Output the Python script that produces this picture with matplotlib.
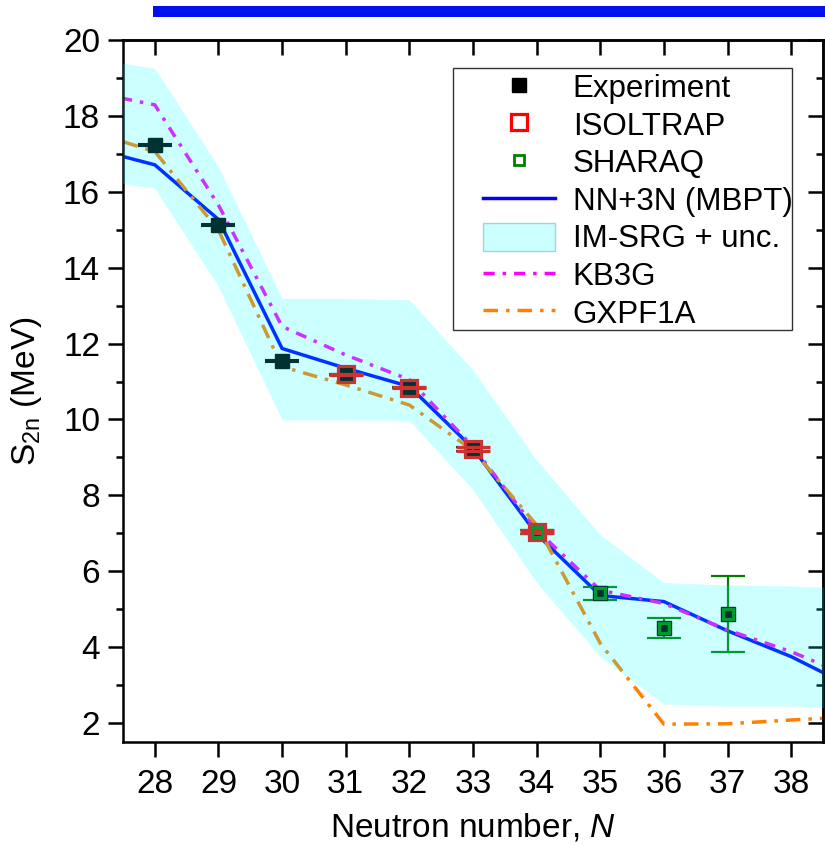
import matplotlib
matplotlib.use('Agg')
import matplotlib.pyplot as plt
from matplotlib.patches import Rectangle, Patch
from matplotlib.lines import Line2D

plt.rcParams['font.family'] = ['Liberation Sans', 'DejaVu Sans']
plt.rcParams['mathtext.fontset'] = 'custom'
plt.rcParams['mathtext.rm'] = 'Liberation Sans'
plt.rcParams['mathtext.it'] = 'Liberation Sans:italic'

# ---------------- data ----------------
exp_N = [28, 29, 30, 31, 32, 33, 34, 35, 36, 37]
exp_S = [17.23, 15.12, 11.54, 11.19, 10.84, 9.22, 7.04, 5.42, 4.50, 4.87]
exp_err = [0.02, 0.02, 0.02, 0.01, 0.01, 0.06, 0.05, 0.17, 0.26, 1.0]

iso_N = [31, 32, 33, 34]
iso_S = [11.19, 10.84, 9.22, 7.04]
iso_err = [0.01, 0.01, 0.06, 0.04]

sha_N = [34, 35, 36, 37]
sha_S = [7.04, 5.42, 4.50, 4.87]
sha_err = [0.05, 0.17, 0.26, 1.0]

theory_N = [27, 28, 29, 30, 31, 32, 33, 34, 35, 36, 37, 38, 39]
mbpt = [17.15, 16.71, 15.27, 11.87, 11.35, 10.87, 9.24, 6.98, 5.36, 5.20, 4.43, 3.75, 2.91]
imsrg_hi = [19.53, 19.25, 16.66, 13.19, 13.19, 13.15, 11.30, 8.93, 6.96, 5.70, 5.64, 5.61, 5.55]
imsrg_lo = [16.35, 16.09, 13.50, 9.99, 9.99, 9.97, 8.15, 5.70, 3.75, 2.50, 2.45, 2.45, 2.37]
kb3g = [18.63, 18.29, 15.65, 12.45, 11.70, 11.05, 9.28, 7.09, 5.50, 5.15, 4.45, 3.88, 3.18]
gxpf1a = [17.58, 17.06, 14.99, 11.39, 10.91, 10.38, 9.18, 7.22, 4.10, 1.97, 1.98, 2.08, 2.17]

x_ticks = [28, 29, 30, 31, 32, 33, 34, 35, 36, 37, 38]
y_ticks = [2, 4, 6, 8, 10, 12, 14, 16, 18, 20]
y_minor = [3, 5, 7, 9, 11, 13, 15, 17, 19]

# ---------------- figure ----------------
W, H = 825, 846
fig = plt.figure(figsize=(W / 100, H / 100), dpi=100)
ax = fig.add_axes([123 / W, 1 - 742 / H, 700 / W, 702 / H])

blue = '#0000ff'
magenta = '#ff00ff'
orange = '#ff8000'
red = '#ff0000'
green = '#008000'
dd_mag = (0, (3.2, 2.3, 1, 2.3))
dd_org = (0, (4.2, 2.3, 1, 2.3))
LW = 2.5

ax.plot(theory_N, mbpt, color=blue, lw=LW, zorder=2)
ax.plot(theory_N, kb3g, color=magenta, lw=LW, ls=dd_mag, zorder=2)
ax.plot(theory_N, gxpf1a, color=orange, lw=LW, ls=dd_org, zorder=2)

eb = dict(elinewidth=1.5, capsize=12, capthick=1.5, ls='none')
# error bars (below markers)
ax.errorbar(exp_N, exp_S, yerr=exp_err, fmt='none', ecolor='black', zorder=2.4, **eb)
ax.errorbar(sha_N, sha_S, yerr=sha_err, fmt='none', ecolor=green, zorder=2.5, **eb)
# markers
ax.plot(exp_N, exp_S, 's', color='black', ms=9.4, zorder=3)
ax.errorbar(iso_N, iso_S, yerr=iso_err, fmt='s', mfc='none', mec=red, mew=2.3,
            ms=11.5, ecolor=red, zorder=3.1, **eb)
ax.plot(sha_N, sha_S, 's', mfc='none', mec=green, mew=2.3, ms=7.5, zorder=3.2)

# IM-SRG band drawn semi-transparent on top
ax.fill_between(theory_N, imsrg_lo, imsrg_hi, color=(0, 1, 1, 0.2), lw=0, zorder=4)

ax.set_xlim(27.5, 38.5)
ax.set_ylim(1.5, 20)
ax.set_xticks(x_ticks)
ax.set_yticks(y_ticks)
ax.set_yticks(y_minor, minor=True)

for s in ax.spines.values():
    s.set_linewidth(1.8)
ax.tick_params(axis='both', which='major', direction='out', length=10.5, width=1.8,
               labelsize=24, pad=6)
ax.tick_params(axis='y', which='minor', direction='out', length=5, width=1.8)
ax.tick_params(axis='x', which='major', pad=9)

top = ax.secondary_xaxis('top')
top.set_xticks(x_ticks)
top.tick_params(direction='in', length=10.5, width=1.8, labeltop=False)
top.spines['top'].set_linewidth(1.8)
right = ax.secondary_yaxis('right')
right.set_yticks(y_ticks)
right.set_yticks(y_minor, minor=True)
right.tick_params(which='major', direction='in', length=10.5, width=1.8, labelright=False)
right.tick_params(which='minor', direction='in', length=5, width=1.8, labelright=False)
right.spines['right'].set_linewidth(1.8)

ax.set_xlabel('Neutron number, $\\mathit{N}$', fontsize=24, labelpad=8)
ax.set_ylabel('$\\mathrm{S}_{\\mathrm{2n}}$ (MeV)', fontsize=24, labelpad=14)

# legend frame drawn separately
frame = Rectangle((0.4714, 0.5869), 0.9557 - 0.4714, 0.9601 - 0.5869,
                  transform=ax.transAxes, facecolor='white', edgecolor='#333333',
                  lw=1.0, zorder=9, clip_on=False)
ax.add_patch(frame)

handles = [
    Line2D([], [], ls='none', marker='s', color='black', ms=9.4),
    Line2D([], [], ls='none', marker='s', mfc='none', mec=red, mew=2.3, ms=11.5),
    Line2D([], [], ls='none', marker='s', mfc='none', mec=green, mew=2.0, ms=7.5),
    Line2D([], [], color=blue, lw=LW),
    Patch(facecolor=(0, 1, 1, 0.2), edgecolor=(0.4, 0.75, 0.75, 0.6), lw=1),
    Line2D([], [], color=magenta, lw=LW, ls=dd_mag),
    Line2D([], [], color=orange, lw=LW, ls=dd_org),
]
labels = ['Experiment', 'ISOLTRAP', 'SHARAQ', 'NN+3N (MBPT)', 'IM-SRG + unc.',
          'KB3G', 'GXPF1A']
leg = ax.legend(handles, labels, loc='upper left', bbox_to_anchor=(0.514, 0.954),
                fontsize=22.5, frameon=False, handlelength=2.3, handleheight=1.0,
                handletextpad=0.58, labelspacing=0.19, borderpad=0,
                borderaxespad=0)
leg.set_zorder(10)

fig.patches.append(Rectangle((153 / W, 1 - 17 / H), (W - 153) / W, 11 / H,
                             transform=fig.transFigure, color='#0010ee', lw=0))

fig.savefig('out.png', dpi=100)
